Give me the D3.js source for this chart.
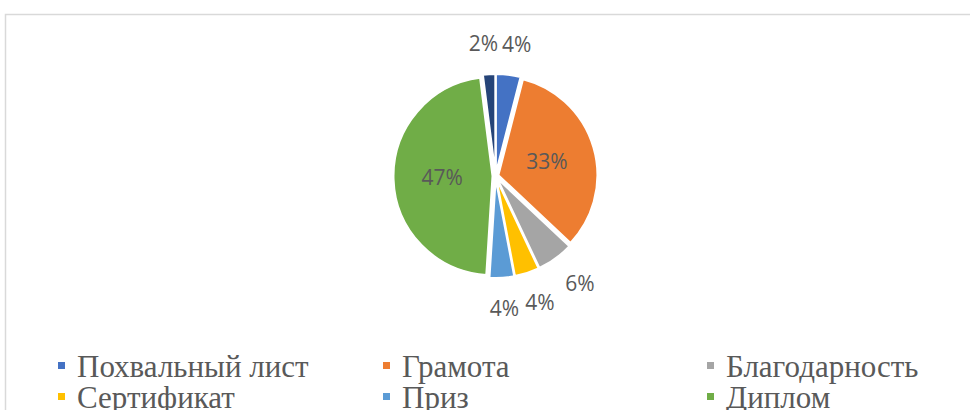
<!DOCTYPE html>
<html>
<head>
<meta charset="utf-8">
<script src="https://cdn.jsdelivr.net/npm/d3@7/dist/d3.min.js"></script>
</head>
<body style="margin:0">
<svg id="award-pie" width="970" height="410"></svg>
<script>
// Award types and their shares (%)
const categories = ["Похвальный лист", "Грамота", "Благодарность", "Сертификат", "Приз", "Диплом", "Медаль"];
const shares = [4, 33, 6, 4, 4, 47, 2];
const sliceColors = ["#4472C4", "#ED7D31", "#A5A5A5", "#FFC000", "#5B9BD5", "#70AD47", "#264478"];

const legendFont = '"Liberation Serif", "Times New Roman", Tinos, "DejaVu Serif", serif';
const labelFont = '"Open Sans", sans-serif';

const svg = d3.select("#award-pie");

// chart-area frame
svg.append("rect")
  .attr("x", 5.5).attr("y", 14.5)
  .attr("width", 1200).attr("height", 1200)
  .attr("fill", "#fff")
  .attr("stroke", "#D9D9D9").attr("stroke-width", 1.5);

const cx = 495.5, cy = 176, radius = 99, explode = 3;

const pie = d3.pie().sort(null).value(d => d.v);
const arcs = pie(categories.map((c, i) => ({ c, v: shares[i], i })));
const arc = d3.arc().innerRadius(0).outerRadius(radius);

const g = svg.append("g").attr("transform", `translate(${cx},${cy})`);

function mid(d) { return (d.startAngle + d.endAngle) / 2; }

g.selectAll("path.slice")
  .data(arcs)
  .join("path")
  .attr("class", "slice")
  .attr("d", arc)
  .attr("transform", d => {
    const a = mid(d);
    return `translate(${explode * Math.sin(a)},${-explode * Math.cos(a)})`;
  })
  .attr("fill", d => sliceColors[d.data.i])
  .attr("stroke", "#fff")
  .attr("stroke-width", 2)
  .attr("stroke-linejoin", "round");

// data labels: large slices inside, small ones outside the rim
const labelSize = 21;
const capH = labelSize * 0.714;
// approximate advance widths of Open Sans: digits 0.572em, percent 0.824em
const textW = s => labelSize * ((s.length - 1) * 0.572 + 0.824);

const labels = arcs.map(d => {
  const a = mid(d);
  const s = Math.sin(a), c = Math.cos(a);
  const txt = d.data.v + "%";
  const w = textW(txt);
  if (d.data.v >= 10) {
    const rr = radius * 0.54;
    return { txt, w, x: rr * s - w / 2, y: -rr * c - capH / 2, inside: true };
  }
  const R = radius + explode + 23;
  const px = R * s, py = -R * c;
  return { txt, w, x: px - w * (1 - s) / 2 + 4 * s, y: py - capH * (1 + c) / 2, inside: false };
});

// separate outside labels that sit too close to each other
const outside = labels.filter(l => !l.inside);
const gap = 4;
for (let iter = 0; iter < 20; iter++) {
  for (let i = 0; i < outside.length; i++) {
    for (let j = i + 1; j < outside.length; j++) {
      const A = outside[i], B = outside[j];
      const vOverlap = Math.min(A.y + capH, B.y + capH) - Math.max(A.y, B.y);
      const hOverlap = Math.min(A.x + A.w, B.x + B.w) - Math.max(A.x, B.x);
      if (vOverlap > -gap && hOverlap > -gap) {
        const push = (hOverlap + gap) / 2;
        if (A.x < B.x) { A.x -= push; B.x += push; } else { A.x += push; B.x -= push; }
      }
    }
  }
}

svg.selectAll("text.lbl")
  .data(labels)
  .join("text")
  .attr("class", "lbl")
  .attr("x", d => cx + d.x)
  .attr("y", d => cy + d.y + capH)
  .attr("fill", "#595959")
  .style("font-family", labelFont, "important")
  .style("font-size", labelSize + "px", "important")
  .text(d => d.txt);

// legend: three columns, rows below the pie
const colX = [58, 383, 707];
const rowY = i => 377 + Math.floor(i / 3) * 31;

svg.selectAll("rect.key")
  .data(categories)
  .join("rect")
  .attr("class", "key")
  .attr("x", (d, i) => colX[i % 3])
  .attr("y", (d, i) => rowY(i) - 15)
  .attr("width", 7).attr("height", 7)
  .attr("fill", (d, i) => sliceColors[i]);

svg.selectAll("text.key")
  .data(categories)
  .join("text")
  .attr("class", "key")
  .attr("x", (d, i) => colX[i % 3] + 19)
  .attr("y", (d, i) => rowY(i))
  .attr("fill", "#595959")
  .style("font-family", legendFont, "important")
  .style("font-size", "31px", "important")
  .text(d => d);
</script>
</body>
</html>
